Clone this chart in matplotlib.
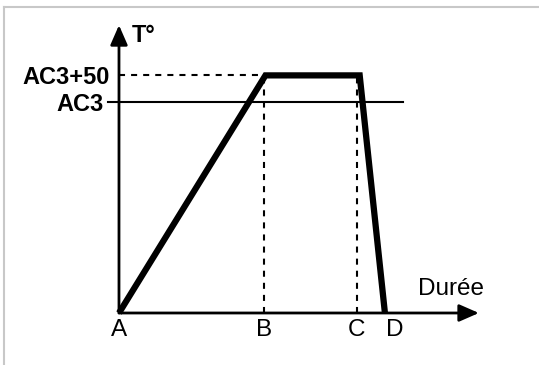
import matplotlib.pyplot as plt
from matplotlib.lines import Line2D

plt.rcParams['font.family'] = ['Liberation Sans', 'DejaVu Sans']

# données du schéma (durée en unités arbitraires, température en unités arbitraires)
noms_t = ['A', 'B', 'C', 'D']
t_reperes = [0, 5.0, 8.2, 9.17]
t_courbe = [0, 5.05, 8.3, 9.17]
ac3 = 390
ac3_50 = ac3 + 50
T_courbe = [0, ac3_50, ac3_50, 0]
t_max = 12.41
T_max = 533

fig = plt.figure(figsize=(5.39, 3.65), dpi=100)
ax = fig.add_axes([0, 0, 1, 1])
ax.set_xlim(-4.103, 14.483)
ax.set_ylim(-96.3, 579.6)
ax.axis('off')

# cadre gris (haut et gauche)
fig.add_artist(Line2D([4 / 539, 1], [1 - 7 / 365] * 2, color='#c8c8c8', lw=1.5))
fig.add_artist(Line2D([4 / 539] * 2, [0, 1 - 7 / 365], color='#c8c8c8', lw=1.5))

# axes avec flèches
fleche = dict(arrowstyle='-|>,head_length=0.8,head_width=0.35', color='k', lw=2,
              shrinkA=0, shrinkB=0, mutation_scale=15)
ax.annotate('', xy=(t_max, 0), xytext=(0, 0), arrowprops=fleche)
ax.annotate('', xy=(0, T_max), xytext=(0, 0), arrowprops=fleche)

# niveaux AC3 et AC3+50
ax.plot([-0.38, 9.8], [ac3, ac3], color='k', lw=1.5)
tirets = (0, (2.9, 2.9))
ax.plot([0, t_reperes[1]], [ac3_50, ac3_50], color='k', lw=1.5, ls=tirets)
for t in t_reperes[1:3]:
    ax.plot([t, t], [0, ac3_50], color='k', lw=1.5, ls=tirets)

# cycle thermique
ax.plot(t_courbe, T_courbe, color='k', lw=4.5, solid_joinstyle='miter',
        solid_capstyle='butt')

# textes
for nom, t in zip(noms_t, t_reperes):
    dx = 7 if nom == 'D' else 0
    ax.annotate(nom, (t, 0), xytext=(dx, -4.5), textcoords='offset points',
                ha='center', va='top', fontsize=17.5)
ax.text(10.32, 33, 'Durée', ha='left', va='baseline', fontsize=17.5)
ax.text(0.45, 502, 'T°', ha='left', va='baseline', fontsize=17, fontweight='bold')
ax.text(-0.33, ac3_50, 'AC3+50', ha='right', va='center_baseline', fontsize=17,
        fontweight='bold')
ax.text(-0.52, ac3, 'AC3', ha='right', va='center_baseline', fontsize=17,
        fontweight='bold')

fig.savefig('out.png', dpi=100)
